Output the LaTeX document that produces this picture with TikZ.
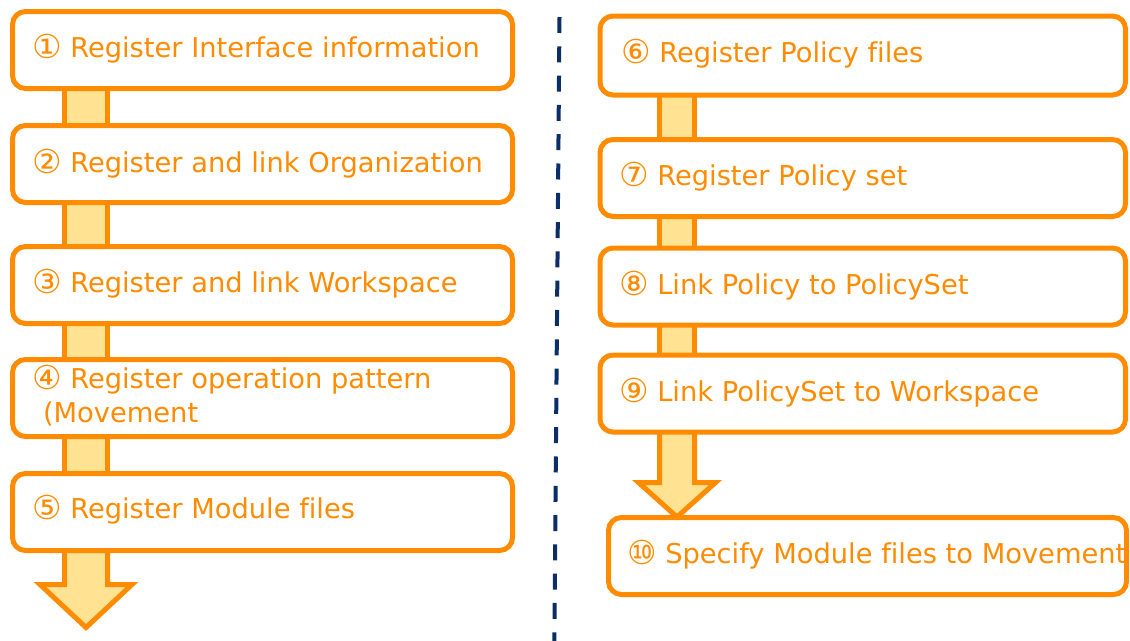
\documentclass[tikz,border=0pt]{standalone}
\usepackage{fontspec}
\setmainfont{DejaVu Sans}[Ligatures=NoCommon]
\usetikzlibrary{calc,backgrounds}
\definecolor{orng}{HTML}{FF8C00}
\definecolor{lyel}{HTML}{FFE393}
\definecolor{navy}{HTML}{0B2E66}
\newcommand\circnum[1]{\raisebox{-1.5pt}{\fontsize{33}{34}\selectfont #1}}
\tikzset{
  box/.style={draw=orng, line width=5pt, fill=white, rounded corners=13pt, rectangle, outer sep=0pt, inner sep=0pt, minimum height=77pt},
  lbox/.style={box, minimum width=500pt},
  rbox/.style={box, minimum width=525.5pt},
  conn/.style={draw=orng, line width=5pt, fill=lyel},
  bigarrow/.style={draw=orng, line width=5pt, fill=lyel, line join=miter},
  lbl/.style={anchor=base west, inner sep=0pt, outer sep=0pt, text=orng, font=\fontsize{27.3}{34}\selectfont},
  dashline/.style={draw=navy, line width=4pt, dash pattern=on 16pt off 13.3pt}
}
\begin{document}
\begin{tikzpicture}[x=1pt, y=-1pt]
\useasboundingbox (0,0) rectangle (1130,640);
% left boxes
\node[lbox] (b1) at (262.5,50) {};
\node[lbox] (b2) at (262.5,164) {};
\node[lbox] (b3) at (262.5,285) {};
\node[lbox] (b4) at (262.5,398) {};
\node[lbox] (b5) at (262.5,512) {};
% right boxes
\node[rbox, minimum height=79pt] (b6) at (862.75,55.5) {};
\node[rbox] (b7) at (862.75,178) {};
\node[rbox] (b8) at (862.75,286.5) {};
\node[rbox] (b9) at (862.75,393.5) {};
\node[box, minimum width=518pt] (b10) at (867.5,556) {};
% free ends of the two final arrows and of the separator
\coordinate (e5) at (86,627.5);
\coordinate (e9) at (677,517);
\coordinate (dtop) at (559.5,17);
\coordinate (dbot) at (554.3,645);
\begin{scope}[on background layer]
\fill[white] (0,0) rectangle (1130,640);
\draw[dashline] (dtop) -- (dbot);
\draw[conn] ($(b1.south west)+(52,-10)$) rectangle ($(b2.north west)+(95,10)$);
\draw[conn] ($(b2.south west)+(52,-10)$) rectangle ($(b3.north west)+(95,10)$);
\draw[conn] ($(b3.south west)+(52,-10)$) rectangle ($(b4.north west)+(95,10)$);
\draw[conn] ($(b4.south west)+(52,-10)$) rectangle ($(b5.north west)+(95,10)$);
\draw[conn] ($(b6.south west)+(59.5,-10)$) rectangle ($(b7.north west)+(94.5,10)$);
\draw[conn] ($(b7.south west)+(59.5,-10)$) rectangle ($(b8.north west)+(94.5,10)$);
\draw[conn] ($(b8.south west)+(59.5,-10)$) rectangle ($(b9.north west)+(94.5,10)$);
\draw[bigarrow] ($(b5.south west)+(52,-10)$) -- (64.5,584.5) -- (40,584.5) -- (e5) -- (132,584.5) -- (107.5,584.5) -- ($(b5.south west)+(95,-10)$);
\draw[bigarrow] ($(b9.south west)+(59.5,-10)$) -- (659.5,482.5) -- (638.5,482.5) -- (e9) -- (715.5,482.5) -- (694.5,482.5) -- ($(b9.south west)+(94.5,-10)$);
\end{scope}
% labels
\node[lbl] (t1) at (32,57) {\circnum{①} Register Interface information};
\node[lbl] (t2) at (32,172) {\circnum{②} Register and link Organization};
\node[lbl] (t3) at (32,292) {\circnum{③} Register and link Workspace};
\node[lbl] (t4) at (32,388) {\circnum{④} Register operation pattern};
\node[lbl] (t4b) at (43,422) {(Movement};
\node[lbl] (t5) at (32,518) {\circnum{⑤} Register Module files};
\node[lbl] (t6) at (621,62) {\circnum{⑥} Register Policy files};
\node[lbl] (t7) at (619,185) {\circnum{⑦} Register Policy set};
\node[lbl] (t8) at (619,294) {\circnum{⑧} Link Policy to PolicySet};
\node[lbl] (t9) at (619,401) {\circnum{⑨} Link PolicySet to Workspace};
\node[lbl] (t10) at (627,563) {\circnum{⑩} Specify Module files to Movement};
\end{tikzpicture}
\end{document}
